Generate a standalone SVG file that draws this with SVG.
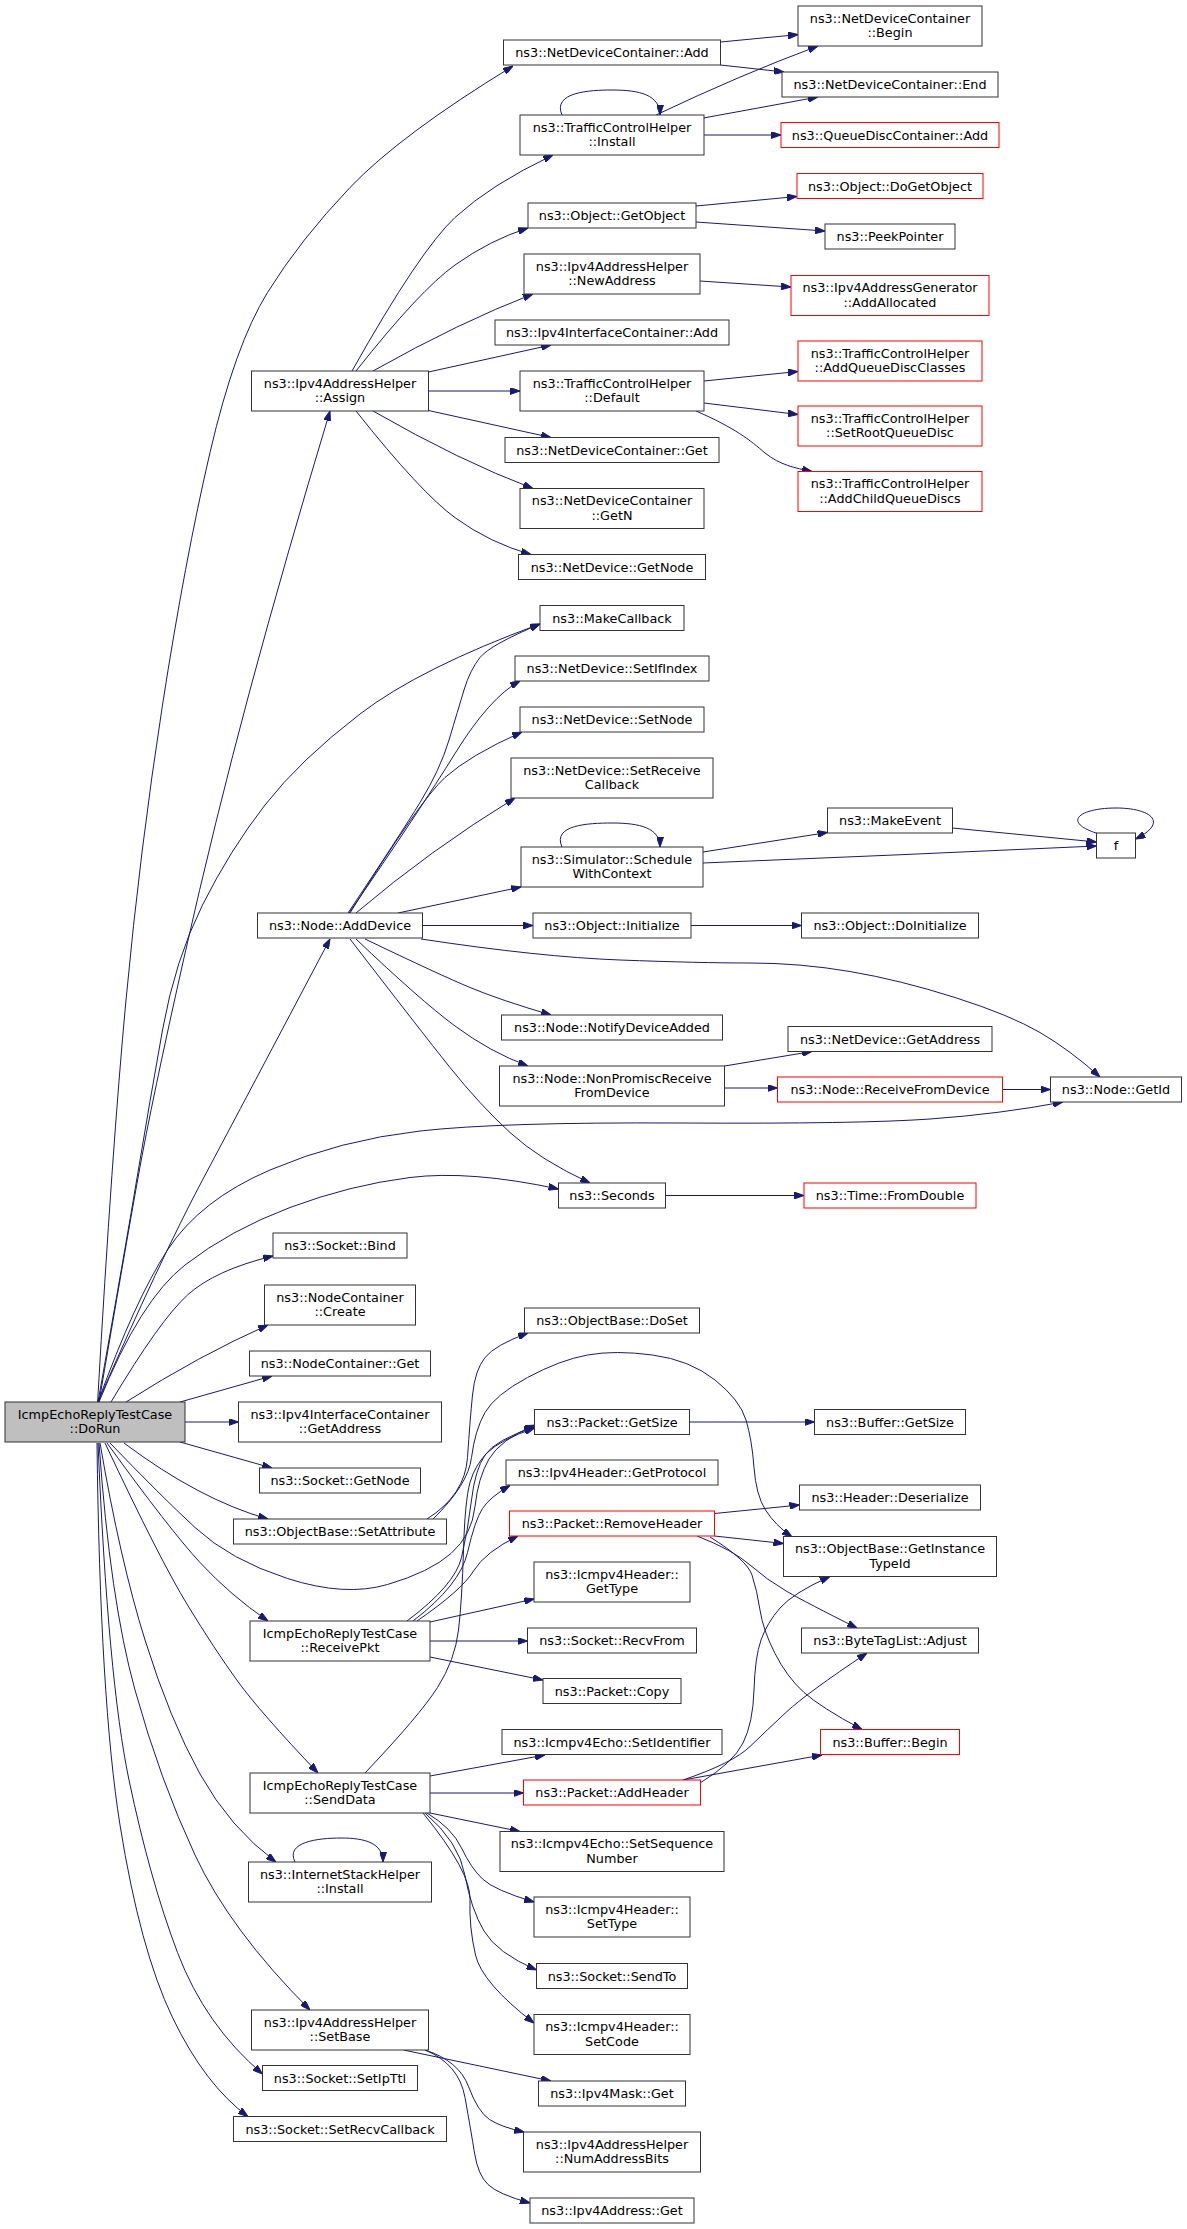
<svg xmlns="http://www.w3.org/2000/svg" width="1187" height="2229" viewBox="0 0 1187 2229">
<style>
.n rect{fill:#fff;stroke:#333;stroke-width:1}
.n.r rect{stroke:#f00}
.n.root rect{fill:#bfbfbf}
text{font-family:"DejaVu Sans",sans-serif;font-size:12.8px;text-anchor:middle;fill:#000}
.e path{fill:none;stroke:#191970;stroke-width:1;marker-end:url(#a)}
</style>
<defs>
<marker id="a" viewBox="0 0 10 7" refX="10" refY="3.5" markerWidth="10" markerHeight="7" markerUnits="userSpaceOnUse" orient="auto"><path d="M0,0L10,3.5L0,7z" fill="#191970" stroke="#191970" stroke-width="1"/></marker>
</defs>
<rect width="1187" height="2229" fill="#fff"/>
<g id="edges" class="e">
<path d="M97.6,1402 Q112,1150 126,1000 Q140,850 162.5,705 Q185,560 210,452.5 Q235,345 267.5,292.5 Q300,240 350,187.5 Q400,135 513,66"/>
<path d="M99,1402 Q125,1250 138.5,1175 Q152,1100 183.5,960 Q215,820 250,690 Q285,560 330,411"/>
<path d="M98,1402 Q125,1250 137.5,1175 Q150,1100 162.5,1030 Q175,960 202.5,905 Q230,850 265,805 Q300,760 360,714 Q420,668 540,624"/>
<path d="M98,1402 Q160,1260 202.5,1180 Q245,1100 330,939"/>
<path d="M98,1402 Q135,1300 167.5,1250 Q200,1200 270,1170 Q340,1140 420,1131 Q500,1122 680,1123 Q860,1124 930,1119 Q1000,1114 1063,1102"/>
<path d="M99,1402 Q140,1300 185,1265 Q230,1230 290,1207.5 Q350,1185 410,1177.5 Q470,1170 558.5,1189"/>
<path d="M111,1402 Q160,1320 187.5,1295 Q215,1270 273,1256"/>
<path d="M126,1402 Q200,1355 268,1325"/>
<path d="M180,1402 L272,1376"/>
<path d="M185,1422 L238.5,1422"/>
<path d="M180,1442 L272,1468"/>
<path d="M124,1443 Q200,1500 268,1519"/>
<path d="M110,1443 Q160,1495 195,1527.5 Q230,1560 287.5,1578.5 Q345,1597 387.5,1584.5 Q430,1572 451,1553.5 Q472,1535 475,1506.5 Q478,1478 489,1459 Q500,1440 534.5,1425"/>
<path d="M107,1443 Q170,1530 200,1562.5 Q230,1595 268,1621"/>
<path d="M105,1443 Q160,1560 187.5,1605 Q215,1650 237.5,1681 Q260,1712 318,1773"/>
<path d="M100,1443 Q120,1560 145,1640 Q170,1720 200,1774 Q230,1828 276,1862"/>
<path d="M99,1443 Q110,1600 135,1690 Q160,1780 195,1855 Q230,1930 310,2010"/>
<path d="M98,1443 Q108,1680 129,1780 Q150,1880 177.5,1952.5 Q205,2025 262.5,2074"/>
<path d="M97,1443 Q100,1700 120,1825 Q140,1950 172.5,2017.5 Q205,2085 248,2116.5"/>
<path d="M352,371 Q420,250 455,217.5 Q490,185 553,155"/>
<path d="M356,371 Q420,290 455,265 Q490,240 528,228"/>
<path d="M373,371 Q460,322 533,294"/>
<path d="M428.5,372 L551,345"/>
<path d="M428.5,391 L520,391"/>
<path d="M428.5,410.5 L551,437.5"/>
<path d="M373,411 Q460,461 533,488.5"/>
<path d="M356,411 Q421,493 455.5,518 Q490,543 531,554.5"/>
<path d="M562,115 C552,92 590,90 612,90 C640,90 660,95 660,115"/>
<path d="M656,115 Q740,75 818,46"/>
<path d="M703.5,118 L818,97"/>
<path d="M704,135 L781,135"/>
<path d="M720.5,42 L798,34.6"/>
<path d="M720.5,65 L784,72"/>
<path d="M696,206 L797,196.5"/>
<path d="M696,222 L825,231"/>
<path d="M700,281 L791,287"/>
<path d="M704,381 L798,371.5"/>
<path d="M704,403 L798,414.5"/>
<path d="M696,411 C735,428 750,440 765,453 C780,465 795,468 812,471.5"/>
<path d="M348,913 Q400,835 420,802.5 Q440,770 449,740 Q458,710 464,690 Q470,670 480,657.5 Q490,645 540,624"/>
<path d="M349,913 Q420,810 455,753.5 Q490,697 520,681"/>
<path d="M350,913 Q420,800 445,777.5 Q470,755 522,732"/>
<path d="M356,913 Q430,850 515,798"/>
<path d="M398,913 L521,887"/>
<path d="M422.5,925.5 L533,925.5"/>
<path d="M421,939 Q540,957 620,960 Q700,963 750,963 Q800,963 850,971.5 Q900,980 955,997.5 Q1010,1015 1040,1032.5 Q1070,1050 1100,1077"/>
<path d="M365,939 Q440,975 470,987.5 Q500,1000 551,1015"/>
<path d="M356,939 Q420,1000 455,1026 Q490,1052 528,1066"/>
<path d="M350,939 Q420,1030 450,1067.5 Q480,1105 510,1132.5 Q540,1160 590,1183"/>
<path d="M562,847 C552,825 588,823 612,823 C640,823 660,828 660,847"/>
<path d="M703,852 L827.5,832.5"/>
<path d="M703,863 Q900,855 1096.5,846"/>
<path d="M952.5,828 L1096.5,842"/>
<path d="M1099,834 C1060,822 1080,808 1116,808 C1150,808 1170,822 1135.5,839"/>
<path d="M691,925.5 L801.5,925.5"/>
<path d="M724.5,1066 L812,1051.5"/>
<path d="M724.5,1088 L777.5,1088"/>
<path d="M1002.5,1089.5 L1050.5,1089.5"/>
<path d="M665.5,1195.5 L804,1195.5"/>
<path d="M427,1519 Q465,1495 467.5,1457.5 Q470,1420 472.5,1395 Q475,1370 485,1357.5 Q495,1345 528,1333"/>
<path d="M433,1519 Q468,1485 471.5,1457.5 Q475,1430 485,1412.5 Q495,1395 527.5,1377.5 Q560,1360 587.5,1355 Q615,1350 652.5,1355 Q690,1360 715,1380 Q740,1400 746,1420 Q752,1440 754,1467.5 Q756,1495 765.5,1510 Q775,1525 792,1537"/>
<path d="M689.5,1422 L814.5,1422"/>
<path d="M407,1621 Q455,1585 461.5,1557.5 Q468,1530 471.5,1500 Q475,1470 485,1455 Q495,1440 534.5,1427"/>
<path d="M413,1621 Q460,1585 467.5,1552.5 Q475,1520 482.5,1508.5 Q490,1497 510,1485.5"/>
<path d="M417,1621 Q462,1590 473.5,1571 Q485,1552 518,1536"/>
<path d="M430,1622 L534,1599"/>
<path d="M430,1641 L527.5,1641"/>
<path d="M430,1657 L543,1680"/>
<path d="M365,1773 Q420,1715 437.5,1687.5 Q455,1660 458.5,1630 Q462,1600 463.5,1550 Q465,1500 470,1482.5 Q475,1465 487.5,1452.5 Q500,1440 534.5,1428"/>
<path d="M430,1776 L545,1755"/>
<path d="M430,1793 L523.5,1793"/>
<path d="M430,1813 L520,1831.5"/>
<path d="M427,1813 Q452,1828 461.5,1848 Q471,1868 482.5,1879 Q494,1890 534,1902"/>
<path d="M425,1813 Q459,1842 465,1875.5 Q471,1909 484,1931 Q497,1953 536.5,1970"/>
<path d="M423,1813 Q471,1872 470,1899.5 Q469,1927 475.5,1955 Q482,1983 534,2023"/>
<path d="M714.5,1513.5 L799.5,1505"/>
<path d="M714.5,1536 L783.5,1543.5"/>
<path d="M697,1536 Q733,1550 750,1565 Q767,1580 787,1591.5 Q807,1603 857,1628"/>
<path d="M710,1537 Q747,1560 752,1575 Q757,1590 760,1610 Q763,1630 775,1653.5 Q787,1677 803.5,1692 Q820,1707 862,1729.5"/>
<path d="M700,1783 Q733,1763 743,1743 Q753,1723 754,1690 Q755,1657 761,1640 Q767,1623 780,1608 Q793,1593 830,1576.5"/>
<path d="M683,1780 Q733,1763 750,1746.5 Q767,1730 787,1711.5 Q807,1693 867,1653"/>
<path d="M683,1780 L822,1755"/>
<path d="M403.5,2050 L551,2081"/>
<path d="M425,2050 Q459,2061 468.5,2086.5 Q478,2112 489.5,2119.5 Q501,2127 524,2132"/>
<path d="M425,2050 Q459,2064 465,2097.5 Q471,2131 474.5,2153 Q478,2175 488,2184.5 Q497.5,2194 530,2203"/>
<path d="M295,1862 C285,1842 318,1838 341,1838 C365,1838 383,1843 383,1862"/>
</g>
<g id="DoRun" class="n root"><rect x="5" y="1402" width="180" height="40"/><text x="95" y="1418.5">IcmpEchoReplyTestCase</text><text x="95" y="1433">::DoRun</text></g>
<g id="Assign" class="n"><rect x="251.5" y="371" width="177" height="40"/><text x="340" y="387.5">ns3::Ipv4AddressHelper</text><text x="340" y="402">::Assign</text></g>
<g id="AddDevice" class="n"><rect x="257.5" y="913" width="165" height="25"/><text x="340" y="930">ns3::Node::AddDevice</text></g>
<g id="Bind" class="n"><rect x="273" y="1233" width="134" height="25"/><text x="340" y="1250">ns3::Socket::Bind</text></g>
<g id="NCCreate" class="n"><rect x="264.5" y="1285" width="151" height="40"/><text x="340" y="1301.5">ns3::NodeContainer</text><text x="340" y="1316">::Create</text></g>
<g id="NCGet" class="n"><rect x="249.5" y="1351" width="181" height="25"/><text x="340" y="1368">ns3::NodeContainer::Get</text></g>
<g id="GetAddressIIC" class="n"><rect x="238.5" y="1402" width="203" height="40"/><text x="340" y="1418.5">ns3::Ipv4InterfaceContainer</text><text x="340" y="1433">::GetAddress</text></g>
<g id="SocketGetNode" class="n"><rect x="259.5" y="1468" width="161" height="25"/><text x="340" y="1485">ns3::Socket::GetNode</text></g>
<g id="SetAttribute" class="n"><rect x="233.5" y="1519" width="213" height="25"/><text x="340" y="1536">ns3::ObjectBase::SetAttribute</text></g>
<g id="ReceivePkt" class="n"><rect x="250" y="1621" width="180" height="40"/><text x="340" y="1637.5">IcmpEchoReplyTestCase</text><text x="340" y="1652">::ReceivePkt</text></g>
<g id="SendData" class="n"><rect x="250" y="1773" width="180" height="40"/><text x="340" y="1789.5">IcmpEchoReplyTestCase</text><text x="340" y="1804">::SendData</text></g>
<g id="ISHInstall" class="n"><rect x="248.5" y="1862" width="183" height="40"/><text x="340" y="1878.5">ns3::InternetStackHelper</text><text x="340" y="1893">::Install</text></g>
<g id="SetBase" class="n"><rect x="251.5" y="2010" width="177" height="40"/><text x="340" y="2026.5">ns3::Ipv4AddressHelper</text><text x="340" y="2041">::SetBase</text></g>
<g id="SetIpTtl" class="n"><rect x="262.5" y="2065.5" width="155" height="25"/><text x="340" y="2082.5">ns3::Socket::SetIpTtl</text></g>
<g id="SetRecvCallback" class="n"><rect x="233.5" y="2116.5" width="213" height="25"/><text x="340" y="2133.5">ns3::Socket::SetRecvCallback</text></g>
<g id="NDCAdd" class="n"><rect x="503.5" y="40" width="217" height="25"/><text x="612" y="57">ns3::NetDeviceContainer::Add</text></g>
<g id="TCHInstall" class="n"><rect x="520" y="115" width="184" height="40"/><text x="612" y="131.5">ns3::TrafficControlHelper</text><text x="612" y="146">::Install</text></g>
<g id="GetObject" class="n"><rect x="528" y="203" width="168" height="25"/><text x="612" y="220">ns3::Object::GetObject</text></g>
<g id="NewAddress" class="n"><rect x="524" y="254" width="176" height="40"/><text x="612" y="270.5">ns3::Ipv4AddressHelper</text><text x="612" y="285">::NewAddress</text></g>
<g id="IICAdd" class="n"><rect x="495" y="320" width="234" height="25"/><text x="612" y="337">ns3::Ipv4InterfaceContainer::Add</text></g>
<g id="TCHDefault" class="n"><rect x="520" y="371" width="184" height="40"/><text x="612" y="387.5">ns3::TrafficControlHelper</text><text x="612" y="402">::Default</text></g>
<g id="NDCGet" class="n"><rect x="505" y="437.5" width="214" height="25"/><text x="612" y="454.5">ns3::NetDeviceContainer::Get</text></g>
<g id="NDCGetN" class="n"><rect x="520" y="488.5" width="184" height="40"/><text x="612" y="505">ns3::NetDeviceContainer</text><text x="612" y="519.5">::GetN</text></g>
<g id="NDGetNode" class="n"><rect x="518.5" y="554.5" width="187" height="25"/><text x="612" y="571.5">ns3::NetDevice::GetNode</text></g>
<g id="MakeCallback" class="n"><rect x="540" y="605.5" width="144" height="25"/><text x="612" y="622.5">ns3::MakeCallback</text></g>
<g id="SetIfIndex" class="n"><rect x="515" y="656" width="194" height="25"/><text x="612" y="673">ns3::NetDevice::SetIfIndex</text></g>
<g id="SetNode" class="n"><rect x="520" y="707" width="184" height="25"/><text x="612" y="724">ns3::NetDevice::SetNode</text></g>
<g id="SetReceiveCallback" class="n"><rect x="511" y="758" width="202" height="40"/><text x="612" y="774.5">ns3::NetDevice::SetReceive</text><text x="612" y="789">Callback</text></g>
<g id="ScheduleWithContext" class="n"><rect x="521" y="847" width="182" height="40"/><text x="612" y="863.5">ns3::Simulator::Schedule</text><text x="612" y="878">WithContext</text></g>
<g id="Initialize" class="n"><rect x="533" y="913" width="158" height="25"/><text x="612" y="930">ns3::Object::Initialize</text></g>
<g id="NotifyDeviceAdded" class="n"><rect x="501.5" y="1015" width="221" height="25"/><text x="612" y="1032">ns3::Node::NotifyDeviceAdded</text></g>
<g id="NonPromisc" class="n"><rect x="499.5" y="1066" width="225" height="40"/><text x="612" y="1082.5">ns3::Node::NonPromiscReceive</text><text x="612" y="1097">FromDevice</text></g>
<g id="Seconds" class="n"><rect x="558.5" y="1183" width="107" height="25"/><text x="612" y="1200">ns3::Seconds</text></g>
<g id="DoSet" class="n"><rect x="524.5" y="1308" width="175" height="25"/><text x="612" y="1325">ns3::ObjectBase::DoSet</text></g>
<g id="PacketGetSize" class="n"><rect x="534.5" y="1409.5" width="155" height="25"/><text x="612" y="1426.5">ns3::Packet::GetSize</text></g>
<g id="GetProtocol" class="n"><rect x="506" y="1460" width="212" height="25"/><text x="612" y="1477">ns3::Ipv4Header::GetProtocol</text></g>
<g id="RemoveHeader" class="n r"><rect x="509.5" y="1511" width="205" height="25"/><text x="612" y="1528">ns3::Packet::RemoveHeader</text></g>
<g id="GetType" class="n"><rect x="534" y="1562" width="156" height="40"/><text x="612" y="1578.5">ns3::Icmpv4Header::</text><text x="612" y="1593">GetType</text></g>
<g id="RecvFrom" class="n"><rect x="527.5" y="1628" width="169" height="25"/><text x="612" y="1645">ns3::Socket::RecvFrom</text></g>
<g id="Copy" class="n"><rect x="543" y="1678.5" width="138" height="25"/><text x="612" y="1695.5">ns3::Packet::Copy</text></g>
<g id="SetIdentifier" class="n"><rect x="502" y="1729.5" width="220" height="25"/><text x="612" y="1746.5">ns3::Icmpv4Echo::SetIdentifier</text></g>
<g id="AddHeader" class="n r"><rect x="523.5" y="1780" width="177" height="25"/><text x="612" y="1797">ns3::Packet::AddHeader</text></g>
<g id="SetSequenceNumber" class="n"><rect x="500" y="1831.5" width="224" height="40"/><text x="612" y="1848">ns3::Icmpv4Echo::SetSequence</text><text x="612" y="1862.5">Number</text></g>
<g id="SetType" class="n"><rect x="534" y="1897" width="156" height="40"/><text x="612" y="1913.5">ns3::Icmpv4Header::</text><text x="612" y="1928">SetType</text></g>
<g id="SendTo" class="n"><rect x="536.5" y="1963.5" width="151" height="25"/><text x="612" y="1980.5">ns3::Socket::SendTo</text></g>
<g id="SetCode" class="n"><rect x="534" y="2014.5" width="156" height="40"/><text x="612" y="2031">ns3::Icmpv4Header::</text><text x="612" y="2045.5">SetCode</text></g>
<g id="MaskGet" class="n"><rect x="538.5" y="2081" width="147" height="25"/><text x="612" y="2098">ns3::Ipv4Mask::Get</text></g>
<g id="NumAddressBits" class="n"><rect x="523.5" y="2132" width="177" height="40"/><text x="612" y="2148.5">ns3::Ipv4AddressHelper</text><text x="612" y="2163">::NumAddressBits</text></g>
<g id="AddressGet" class="n"><rect x="530" y="2198" width="164" height="25"/><text x="612" y="2215">ns3::Ipv4Address::Get</text></g>
<g id="NDCBegin" class="n"><rect x="798" y="6" width="184" height="40"/><text x="890" y="22.5">ns3::NetDeviceContainer</text><text x="890" y="37">::Begin</text></g>
<g id="NDCEnd" class="n"><rect x="782" y="72" width="216" height="25"/><text x="890" y="89">ns3::NetDeviceContainer::End</text></g>
<g id="QDCAdd" class="n r"><rect x="781" y="122.5" width="218" height="25"/><text x="890" y="139.5">ns3::QueueDiscContainer::Add</text></g>
<g id="DoGetObject" class="n r"><rect x="797" y="173.5" width="186" height="25"/><text x="890" y="190.5">ns3::Object::DoGetObject</text></g>
<g id="PeekPointer" class="n"><rect x="825" y="224" width="130" height="25"/><text x="890" y="241">ns3::PeekPointer</text></g>
<g id="AddAllocated" class="n r"><rect x="791" y="275.5" width="198" height="40"/><text x="890" y="292">ns3::Ipv4AddressGenerator</text><text x="890" y="306.5">::AddAllocated</text></g>
<g id="AddQueueDiscClasses" class="n r"><rect x="798" y="341" width="184" height="40"/><text x="890" y="357.5">ns3::TrafficControlHelper</text><text x="890" y="372">::AddQueueDiscClasses</text></g>
<g id="SetRootQueueDisc" class="n r"><rect x="798" y="406" width="184" height="40"/><text x="890" y="422.5">ns3::TrafficControlHelper</text><text x="890" y="437">::SetRootQueueDisc</text></g>
<g id="AddChildQueueDiscs" class="n r"><rect x="798" y="471.5" width="184" height="40"/><text x="890" y="488">ns3::TrafficControlHelper</text><text x="890" y="502.5">::AddChildQueueDiscs</text></g>
<g id="MakeEvent" class="n"><rect x="827.5" y="808" width="125" height="25"/><text x="890" y="825">ns3::MakeEvent</text></g>
<g id="DoInitialize" class="n"><rect x="801.5" y="913" width="177" height="25"/><text x="890" y="930">ns3::Object::DoInitialize</text></g>
<g id="NDGetAddress" class="n"><rect x="788" y="1026.5" width="204" height="25"/><text x="890" y="1043.5">ns3::NetDevice::GetAddress</text></g>
<g id="ReceiveFromDevice" class="n r"><rect x="777.5" y="1077" width="225" height="25"/><text x="890" y="1094">ns3::Node::ReceiveFromDevice</text></g>
<g id="FromDouble" class="n r"><rect x="804" y="1183" width="172" height="25"/><text x="890" y="1200">ns3::Time::FromDouble</text></g>
<g id="BufferGetSize" class="n"><rect x="814.5" y="1409.5" width="151" height="25"/><text x="890" y="1426.5">ns3::Buffer::GetSize</text></g>
<g id="Deserialize" class="n"><rect x="799.5" y="1485" width="181" height="25"/><text x="890" y="1502">ns3::Header::Deserialize</text></g>
<g id="GetInstanceTypeId" class="n"><rect x="783.5" y="1536.5" width="213" height="40"/><text x="890" y="1553">ns3::ObjectBase::GetInstance</text><text x="890" y="1567.5">TypeId</text></g>
<g id="Adjust" class="n"><rect x="801.5" y="1628" width="177" height="25"/><text x="890" y="1645">ns3::ByteTagList::Adjust</text></g>
<g id="BufferBegin" class="n r"><rect x="820.5" y="1729.5" width="139" height="25"/><text x="890" y="1746.5">ns3::Buffer::Begin</text></g>
<g id="f" class="n"><rect x="1096.5" y="833" width="39" height="25"/><text x="1116" y="850">f</text></g>
<g id="GetId" class="n"><rect x="1050.5" y="1077" width="131" height="25"/><text x="1116" y="1094">ns3::Node::GetId</text></g>
</svg>
